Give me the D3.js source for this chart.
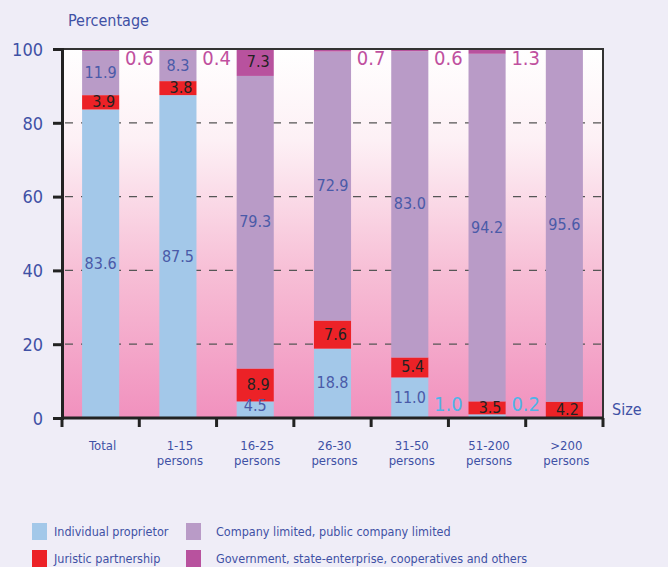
<!DOCTYPE html>
<html>
<head>
<meta charset="utf-8">
<title>Size by legal form</title>
<script src="https://d3js.org/d3.v7.min.js"></script>
<style>
  body { margin: 0; background: #efedf7; }
  text { font-family: "DejaVu Sans Condensed", "DejaVu Sans", sans-serif; }
</style>
</head>
<body>
<div id="chart"></div>
<script>
// data
var categories = ["Total", "1-15 persons", "16-25 persons", "26-30 persons", "31-50 persons", "51-200 persons", ">200 persons"];
var seriesNames = ["Individual proprietor", "Juristic partnership", "Company limited, public company limited", "Government, state-enterprise, cooperatives and others"];
var individual = [83.6, 87.5, 4.5, 18.8, 11.0, 1.0, 0.2];
var juristic   = [3.9, 3.8, 8.9, 7.6, 5.4, 3.5, 4.2];
var company    = [11.9, 8.3, 79.3, 72.9, 83.0, 94.2, 95.6];
var government = [0.6, 0.4, 7.3, 0.7, 0.6, 1.3, 0.0];
var yTicks = [0, 20, 40, 60, 80, 100];

var colors = ["#a3c8e9", "#ec2227", "#b99bc7", "#b8529e"];

var W = 668, H = 567;
var margin = {top: 49, right: 65, bottom: 149, left: 62};
var width = W - margin.left - margin.right;
var height = H - margin.top - margin.bottom;

var svg = d3.select("#chart").append("svg")
  .attr("width", W).attr("height", H);

var defs = svg.append("defs");
var grad = defs.append("linearGradient").attr("id", "bg")
  .attr("x1", 0).attr("y1", 0).attr("x2", 0).attr("y2", 1);
grad.append("stop").attr("offset", "0%").attr("stop-color", "#ffffff");
grad.append("stop").attr("offset", "25%").attr("stop-color", "#fdf0f5");
grad.append("stop").attr("offset", "60%").attr("stop-color", "#f7bfd6");
grad.append("stop").attr("offset", "100%").attr("stop-color", "#f191be");

var g = svg.append("g").attr("transform", "translate(" + margin.left + "," + margin.top + ")");

var x = d3.scaleBand().domain(categories).range([0, width]).paddingInner(0.52).paddingOuter(0.26);
var y = d3.scaleLinear().domain([0, 100]).range([height, 0]);

g.append("rect").attr("width", width).attr("height", height).attr("fill", "url(#bg)");

// dashed grid
g.append("g").selectAll("line")
  .data(yTicks.filter(function (d) { return d > 0 && d < 100; }))
  .enter().append("line")
  .attr("x1", 3).attr("x2", width)
  .attr("y1", function (d) { return y(d); }).attr("y2", function (d) { return y(d); })
  .attr("stroke", "#555").attr("stroke-width", 1.3).attr("stroke-dasharray", "8,8");

// stacks
var rows = categories.map(function (c, i) {
  return {cat: c, s0: individual[i], s1: juristic[i], s2: company[i], s3: government[i]};
});
var stack = d3.stack().keys(["s0", "s1", "s2", "s3"]);
var layers = stack(rows);

g.append("g").selectAll("g")
  .data(layers).enter().append("g")
  .attr("fill", function (d, i) { return colors[i]; })
  .selectAll("rect")
  .data(function (d) { return d; })
  .enter().append("rect")
  .attr("x", function (d) { return x(d.data.cat); })
  .attr("width", x.bandwidth())
  .attr("y", function (d) { return y(Math.min(d[1], 100)); })
  .attr("height", function (d) { return Math.max(0, y(d[0]) - y(Math.min(d[1], 100))); });

// labels
var step = x.step();
var labels = g.append("g");
layers.forEach(function (layer, k) {
  layer.forEach(function (d, i) {
    var v = d[1] - d[0];
    if (v <= 0) return;
    var cx = x(d.data.cat) + x.bandwidth() / 2;
    var cy = y((d[0] + d[1]) / 2);
    var fill, size = 16, tx = cx, ty = cy + 5;
    if (k === 0) {
      if (v < 2) { tx = x(d.data.cat) - (step - x.bandwidth()) / 2; ty = y(0) - 7; fill = "#4fb3e8"; size = 20; }
      else { fill = "#4a5aa8"; if (v < 6) ty = y(0) - 7; }
    } else if (k === 1) {
      fill = "#222"; tx = cx + 3;
    } else if (k === 2) {
      fill = "#4a5aa8";
    } else {
      if (v < 2) { tx = x(d.data.cat) + x.bandwidth() + (step - x.bandwidth()) / 2; ty = y(95.6); fill = "#c0509f"; size = 20; }
      else { fill = "#222"; tx = cx + 3; }
    }
    labels.append("text").attr("x", tx).attr("y", ty)
      .attr("text-anchor", "middle").attr("font-size", size).attr("fill", fill)
      .text(d3.format(".1f")(v));
  });
});

// frame
g.append("path").attr("d", "M0,0H" + width + "V" + height)
  .attr("fill", "none").attr("stroke", "#333").attr("stroke-width", 2);

// y axis
var yAxis = g.append("g").call(d3.axisLeft(y).tickValues(yTicks).tickSize(9).tickPadding(10));
yAxis.select(".domain").attr("stroke", "#222").attr("stroke-width", 3);
yAxis.selectAll(".tick line").attr("stroke", "#222").attr("stroke-width", 3);
yAxis.selectAll(".tick text").attr("font-size", 18).attr("fill", "#3f51a5").attr("dy", "0.35em");

// x axis with ticks at band edges
var xAxis = g.append("g").attr("transform", "translate(0," + height + ")");
xAxis.append("line").attr("x1", 0).attr("x2", width).attr("stroke", "#222").attr("stroke-width", 3);
xAxis.selectAll(".xt").data(d3.range(categories.length + 1)).enter().append("line")
  .attr("x1", function (i) { return i * step; }).attr("x2", function (i) { return i * step; })
  .attr("y1", 0).attr("y2", 9).attr("stroke", "#222").attr("stroke-width", 3);
xAxis.selectAll(".xl").data(categories).enter().append("text")
  .attr("x", function (d) { return x(d) + x.bandwidth() / 2 + 2; })
  .attr("y", 32).attr("text-anchor", "middle").attr("font-size", 13).attr("fill", "#3f51a5")
  .each(function (d) {
    var parts = d.split(" ");
    var t = d3.select(this);
    parts.forEach(function (p, j) {
      t.append("tspan").attr("x", t.attr("x")).attr("dy", j === 0 ? 0 : 15).text(p);
    });
  });

svg.append("text").attr("x", 68).attr("y", 26).attr("font-size", 16).attr("fill", "#3f51a5").text("Percentage");
svg.append("text").attr("x", 612).attr("y", 415).attr("font-size", 16).attr("fill", "#3f51a5").text("Size");

// legend: two columns, two rows
var legendPos = [[32, 523], [32, 550], [186, 523], [186, 550]];
var legendTextX = [54, 54, 216, 216];
var lg = svg.append("g");
seriesNames.forEach(function (n, i) {
  lg.append("rect").attr("x", legendPos[i][0]).attr("y", legendPos[i][1]).attr("width", 15).attr("height", 17).attr("fill", colors[i]);
  lg.append("text").attr("x", legendTextX[i]).attr("y", legendPos[i][1] + 13).attr("font-size", 12.5).attr("fill", "#3f51a5").text(n);
});
</script>
</body>
</html>
